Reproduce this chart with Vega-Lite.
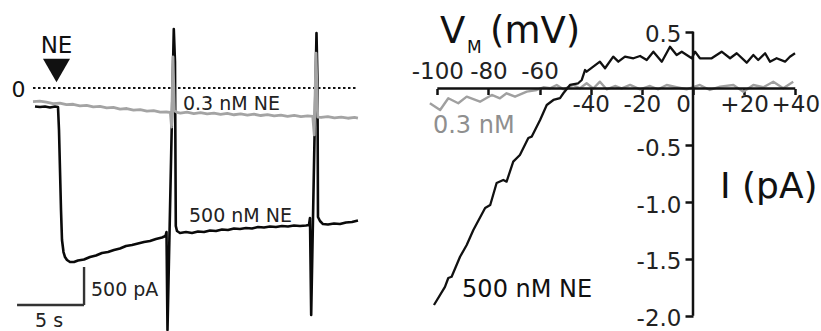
{
  "$schema": "https://vega.github.io/schema/vega-lite/v6.json",
  "width": 821,
  "height": 331,
  "autosize": {"type": "none"},
  "padding": 0,
  "background": "white",
  "config": {"view": {"stroke": null}},
  "datasets": {
    "ne500": [
      {"t": 0.149, "i": -243}, {"t": 0.522, "i": -250}, {"t": 0.896, "i": -243}, {"t": 1.269, "i": -257},
      {"t": 1.642, "i": -243}, {"t": 1.866, "i": -250}, {"t": 1.94, "i": -553}, {"t": 2.015, "i": -1079},
      {"t": 2.09, "i": -1605}, {"t": 2.164, "i": -2000}, {"t": 2.276, "i": -2158}, {"t": 2.388, "i": -2224},
      {"t": 2.537, "i": -2263}, {"t": 2.761, "i": -2289}, {"t": 3.06, "i": -2289}, {"t": 3.358, "i": -2270},
      {"t": 3.806, "i": -2257}, {"t": 4.254, "i": -2224}, {"t": 4.701, "i": -2204}, {"t": 5.149, "i": -2171},
      {"t": 5.597, "i": -2158}, {"t": 6.045, "i": -2132}, {"t": 6.493, "i": -2112}, {"t": 6.94, "i": -2079},
      {"t": 7.388, "i": -2066}, {"t": 7.836, "i": -2046}, {"t": 8.284, "i": -2026}, {"t": 8.731, "i": -2013},
      {"t": 9.179, "i": -1987}, {"t": 9.627, "i": -1967}, {"t": 9.888, "i": -1947}, {"t": 9.963, "i": -1895},
      {"t": 10.037, "i": -3184}, {"t": 10.507, "i": 776}, {"t": 10.597, "i": 342}, {"t": 10.657, "i": -1816},
      {"t": 10.746, "i": -1882}, {"t": 10.97, "i": -1908}, {"t": 11.418, "i": -1895}, {"t": 11.866, "i": -1908},
      {"t": 12.313, "i": -1888}, {"t": 12.761, "i": -1895}, {"t": 13.209, "i": -1875}, {"t": 13.657, "i": -1882},
      {"t": 14.104, "i": -1862}, {"t": 14.552, "i": -1868}, {"t": 15.0, "i": -1849}, {"t": 15.448, "i": -1855},
      {"t": 15.896, "i": -1842}, {"t": 16.343, "i": -1849}, {"t": 16.791, "i": -1829}, {"t": 17.239, "i": -1836},
      {"t": 17.687, "i": -1822}, {"t": 18.134, "i": -1829}, {"t": 18.582, "i": -1816}, {"t": 19.03, "i": -1822},
      {"t": 19.478, "i": -1809}, {"t": 19.925, "i": -1816}, {"t": 20.373, "i": -1809}, {"t": 20.597, "i": -1803},
      {"t": 20.672, "i": -1711}, {"t": 20.761, "i": -2987}, {"t": 21.157, "i": 724}, {"t": 21.231, "i": 105},
      {"t": 21.269, "i": -1697}, {"t": 21.418, "i": -1750}, {"t": 21.642, "i": -1790}, {"t": 22.015, "i": -1796},
      {"t": 22.463, "i": -1783}, {"t": 22.91, "i": -1790}, {"t": 23.358, "i": -1770}, {"t": 23.806, "i": -1763},
      {"t": 24.254, "i": -1743}
    ],
    "ne03": [
      {"t": 0.0, "i": -178}, {"t": 0.5, "i": -172}, {"t": 1.0, "i": -186}, {"t": 1.5, "i": -205},
      {"t": 2.0, "i": -198}, {"t": 2.5, "i": -220}, {"t": 3.0, "i": -214}, {"t": 3.5, "i": -234},
      {"t": 4.0, "i": -228}, {"t": 4.5, "i": -248}, {"t": 5.0, "i": -243}, {"t": 5.5, "i": -262},
      {"t": 6.0, "i": -256}, {"t": 6.5, "i": -277}, {"t": 7.0, "i": -270}, {"t": 7.5, "i": -290},
      {"t": 8.0, "i": -284}, {"t": 8.5, "i": -304}, {"t": 9.0, "i": -298}, {"t": 9.5, "i": -318},
      {"t": 9.95, "i": -316}, {"t": 10.25, "i": -322}, {"t": 10.34, "i": -513}, {"t": 10.45, "i": 408},
      {"t": 10.55, "i": -300}, {"t": 10.75, "i": -320}, {"t": 11.0, "i": -330}, {"t": 11.5, "i": -318},
      {"t": 12.0, "i": -336}, {"t": 12.5, "i": -324}, {"t": 13.0, "i": -340}, {"t": 13.5, "i": -330},
      {"t": 14.0, "i": -346}, {"t": 14.5, "i": -335}, {"t": 15.0, "i": -352}, {"t": 15.5, "i": -340},
      {"t": 16.0, "i": -356}, {"t": 16.5, "i": -345}, {"t": 17.0, "i": -362}, {"t": 17.5, "i": -350},
      {"t": 18.0, "i": -367}, {"t": 18.5, "i": -356}, {"t": 19.0, "i": -372}, {"t": 19.5, "i": -360},
      {"t": 20.0, "i": -377}, {"t": 20.5, "i": -366}, {"t": 20.88, "i": -372}, {"t": 20.99, "i": -618},
      {"t": 21.12, "i": 460}, {"t": 21.25, "i": -382}, {"t": 21.5, "i": -388}, {"t": 22.0, "i": -376},
      {"t": 22.5, "i": -394}, {"t": 23.0, "i": -382}, {"t": 23.5, "i": -398}, {"t": 24.0, "i": -386},
      {"t": 24.25, "i": -395}
    ],
    "iv500": [
      {"v": -101.3, "c": -1.906}, {"v": -97.0, "c": -1.747}, {"v": -95.7, "c": -1.668}, {"v": -94.4, "c": -1.657},
      {"v": -91.1, "c": -1.481}, {"v": -88.5, "c": -1.378}, {"v": -85.9, "c": -1.246}, {"v": -81.3, "c": -1.052},
      {"v": -79.3, "c": -1.026}, {"v": -76.8, "c": -0.832}, {"v": -74.2, "c": -0.805}, {"v": -72.9, "c": -0.82},
      {"v": -70.3, "c": -0.644}, {"v": -67.7, "c": -0.585}, {"v": -64.4, "c": -0.436}, {"v": -63.1, "c": -0.424},
      {"v": -59.8, "c": -0.277}, {"v": -57.2, "c": -0.145}, {"v": -54.6, "c": -0.101}, {"v": -52.0, "c": -0.084},
      {"v": -50.7, "c": -0.042}, {"v": -48.1, "c": 0.031}, {"v": -44.9, "c": 0.046}, {"v": -43.5, "c": 0.075},
      {"v": -42.2, "c": 0.163}, {"v": -41.6, "c": 0.148}, {"v": -39.0, "c": 0.192}, {"v": -36.4, "c": 0.236},
      {"v": -34.4, "c": 0.178}, {"v": -31.2, "c": 0.28}, {"v": -29.2, "c": 0.236}, {"v": -26.6, "c": 0.28},
      {"v": -23.3, "c": 0.266}, {"v": -20.7, "c": 0.286}, {"v": -18.1, "c": 0.251}, {"v": -15.5, "c": 0.324},
      {"v": -12.2, "c": 0.236}, {"v": -9.0, "c": 0.368}, {"v": -6.4, "c": 0.295}, {"v": -4.4, "c": 0.324},
      {"v": -0.5, "c": 0.266}, {"v": 0.8, "c": 0.324}, {"v": 2.7, "c": 0.266}, {"v": 7.3, "c": 0.266},
      {"v": 11.2, "c": 0.324}, {"v": 14.5, "c": 0.266}, {"v": 17.1, "c": 0.31}, {"v": 21.0, "c": 0.227},
      {"v": 23.6, "c": 0.295}, {"v": 25.5, "c": 0.251}, {"v": 28.2, "c": 0.31}, {"v": 30.1, "c": 0.236},
      {"v": 32.7, "c": 0.266}, {"v": 36.0, "c": 0.236}, {"v": 37.9, "c": 0.28}, {"v": 39.9, "c": 0.31}
    ],
    "iv03": [
      {"v": -102.9, "c": -0.13}, {"v": -98.9, "c": -0.189}, {"v": -95.7, "c": -0.086}, {"v": -91.8, "c": -0.13},
      {"v": -88.5, "c": -0.072}, {"v": -83.3, "c": -0.116}, {"v": -78.7, "c": -0.057}, {"v": -75.5, "c": -0.086},
      {"v": -72.9, "c": -0.042}, {"v": -69.6, "c": -0.072}, {"v": -65.0, "c": -0.028}, {"v": -61.1, "c": -0.013},
      {"v": -58.5, "c": 0.011}, {"v": -55.9, "c": 0.002}, {"v": -53.3, "c": 0.031}, {"v": -50.7, "c": -0.007},
      {"v": -46.8, "c": 0.031}, {"v": -44.2, "c": 0.002}, {"v": -41.6, "c": 0.046}, {"v": -39.0, "c": 0.0},
      {"v": -36.4, "c": 0.06}, {"v": -33.8, "c": -0.007}, {"v": -30.5, "c": 0.022}, {"v": -27.9, "c": 0.002},
      {"v": -24.6, "c": 0.031}, {"v": -20.7, "c": -0.007}, {"v": -16.8, "c": 0.022}, {"v": -13.6, "c": -0.007},
      {"v": -10.3, "c": 0.031}, {"v": -6.4, "c": 0.011}, {"v": -2.5, "c": -0.007}, {"v": 2.7, "c": 0.031},
      {"v": 6.6, "c": -0.013}, {"v": 10.6, "c": 0.016}, {"v": 15.8, "c": 0.031}, {"v": 19.7, "c": -0.028},
      {"v": 23.6, "c": 0.031}, {"v": 27.5, "c": 0.011}, {"v": 31.4, "c": 0.06}, {"v": 35.3, "c": 0.002},
      {"v": 39.2, "c": 0.06}
    ],
    "one": [{}]
  },
  "resolve": {"scale": {"x": "independent", "y": "independent"}, "axis": {"x": "independent", "y": "independent"}},
  "layer": [
    {
      "layer": [
        {
          "data": {"name": "one"},
          "mark": {"type": "rule", "strokeWidth": 2, "strokeDash": [2.5, 2.5], "color": "#111"},
          "encoding": {
            "x": {"datum": 0, "scale": {"domain": [-2.463, 58.81], "nice": false, "zero": false}, "axis": null},
            "x2": {"datum": 24.25},
            "y": {"datum": 0, "scale": {"domain": [-3197.4, 1157.9], "nice": false, "zero": false}, "axis": null}
          }
        },
        {
          "data": {"name": "ne500"},
          "mark": {"type": "line", "strokeWidth": 2.6, "color": "#0a0a0a", "strokeJoin": "round"},
          "encoding": {
            "x": {"field": "t", "type": "quantitative", "scale": {"domain": [-2.463, 58.81], "nice": false, "zero": false}, "axis": null},
            "y": {"field": "i", "type": "quantitative", "scale": {"domain": [-3197.4, 1157.9], "nice": false, "zero": false}, "axis": null}
          }
        },
        {
          "data": {"name": "ne03"},
          "mark": {"type": "line", "strokeWidth": 2.8, "color": "#a4a4a4", "strokeJoin": "round"},
          "encoding": {
            "x": {"field": "t", "type": "quantitative", "scale": {"domain": [-2.463, 58.81], "nice": false, "zero": false}, "axis": null},
            "y": {"field": "i", "type": "quantitative", "scale": {"domain": [-3197.4, 1157.9], "nice": false, "zero": false}, "axis": null}
          }
        },
        {
          "data": {"name": "one"},
          "mark": {"type": "rule", "strokeWidth": 2.4, "color": "#333"},
          "encoding": {
            "x": {"datum": -1.19, "axis": null},
            "x2": {"datum": 3.81},
            "y": {"datum": -2855, "axis": null}
          }
        },
        {
          "data": {"name": "one"},
          "mark": {"type": "rule", "strokeWidth": 2.4, "color": "#333"},
          "encoding": {
            "x": {"datum": 3.81, "axis": null},
            "y": {"datum": -2355, "axis": null},
            "y2": {"datum": -2855}
          }
        },
        {
          "data": {"name": "one"},
          "mark": {"type": "point", "shape": "triangle-down", "size": 729, "filled": true, "opacity": 1, "color": "#111", "strokeWidth": 0},
          "encoding": {
            "x": {"datum": 1.754, "axis": null},
            "y": {"datum": 230, "axis": null}
          }
        },
        {
          "data": {"name": "one"},
          "mark": {"type": "text", "text": "NE", "font": "DejaVu Sans", "fontSize": 23, "align": "center", "baseline": "alphabetic", "color": "#111"},
          "encoding": {"x": {"datum": 1.754, "axis": null}, "y": {"datum": 460, "axis": null}}
        },
        {
          "data": {"name": "one"},
          "mark": {"type": "text", "text": "0", "font": "DejaVu Sans", "fontSize": 22, "align": "center", "baseline": "alphabetic", "color": "#111"},
          "encoding": {"x": {"datum": -1.08, "axis": null}, "y": {"datum": -118, "axis": null}}
        },
        {
          "data": {"name": "one"},
          "mark": {"type": "text", "text": "0.3 nM NE", "font": "DejaVu Sans", "fontSize": 19, "align": "left", "baseline": "alphabetic", "color": "#222"},
          "encoding": {"x": {"datum": 11.19, "axis": null}, "y": {"datum": -289.5, "axis": null}}
        },
        {
          "data": {"name": "one"},
          "mark": {"type": "text", "text": "500 nM NE", "font": "DejaVu Sans", "fontSize": 19, "align": "left", "baseline": "alphabetic", "color": "#222"},
          "encoding": {"x": {"datum": 11.64, "axis": null}, "y": {"datum": -1763, "axis": null}}
        },
        {
          "data": {"name": "one"},
          "mark": {"type": "text", "text": "500 pA", "font": "DejaVu Sans", "fontSize": 19, "align": "left", "baseline": "alphabetic", "color": "#222"},
          "encoding": {"x": {"datum": 4.328, "axis": null}, "y": {"datum": -2737, "axis": null}}
        },
        {
          "data": {"name": "one"},
          "mark": {"type": "text", "text": "5 s", "font": "DejaVu Sans", "fontSize": 19, "align": "left", "baseline": "alphabetic", "color": "#222"},
          "encoding": {"x": {"datum": 0.149, "axis": null}, "y": {"datum": -3145, "axis": null}}
        }
      ]
    },
    {
      "resolve": {"axis": {"x": "independent", "y": "independent"}},
      "layer": [
        {
          "data": {"name": "iv03"},
          "mark": {"type": "line", "strokeWidth": 2.4, "color": "#a0a0a0", "strokeJoin": "round"},
          "encoding": {
            "x": {
              "field": "v", "type": "quantitative",
              "scale": {"domain": [-271.02, 50.06], "nice": false, "zero": false},
              "axis": {
                "orient": "bottom", "offset": -242.5, "title": null, "domain": false, "grid": false,
                "values": [0], "ticks": true, "tickSize": 6, "tickWidth": 2.5, "tickColor": "#111",
                "labelFont": "DejaVu Sans", "labelFontSize": 23, "labelColor": "#222",
                "labelBaseline": "middle", "labelFlush": false, "labelOverlap": false,
                "labelPadding": 10, "labelOffset": -10, "labelExpr": "'0'"
              }
            },
            "y": {
              "field": "c", "type": "quantitative",
              "scale": {"domain": [-2.1347, 0.779], "nice": false, "zero": false},
              "axis": {
                "orient": "left", "offset": -693, "title": null, "domain": false, "grid": false,
                "values": [-2, -1.5, -1, -0.5, 0.5],
                "ticks": true, "tickSize": 8, "tickWidth": 2.5, "tickColor": "#111",
                "labelFont": "DejaVu Sans", "labelFontSize": 23, "labelColor": "#222",
                "labelPadding": 4, "labelOffset": 3, "labelFlush": false, "labelOverlap": false,
                "labelExpr": "datum.value < 0 ? '-' + format(-datum.value, '.1f') : format(datum.value, '.1f')"
              }
            }
          }
        },
        {
          "data": {"name": "one"},
          "mark": {"type": "rule", "strokeWidth": 2.5, "color": "#111"},
          "encoding": {
            "x": {
              "datum": -100,
              "scale": {"domain": [-271.02, 50.06], "nice": false, "zero": false},
              "axis": {
                "orient": "bottom", "offset": -242.5, "title": null, "domain": false, "grid": false,
                "values": [-100, -80, -60], "ticks": true, "tickSize": 6, "tickWidth": 2.5, "tickColor": "#111",
                "labelFont": "DejaVu Sans", "labelFontSize": 23, "labelColor": "#222",
                "labelBaseline": "middle", "labelFlush": false, "labelOverlap": false,
                "labelPadding": -23, "labelExpr": "'-' + (-datum.value)"
              }
            },
            "x2": {"datum": 40},
            "y": {"datum": 0, "axis": null}
          }
        },
        {
          "data": {"name": "one"},
          "mark": {"type": "rule", "strokeWidth": 2.5, "color": "#111"},
          "encoding": {
            "x": {"datum": 0, "axis": null},
            "y": {"datum": 0.5, "axis": null},
            "y2": {"datum": -2.0}
          }
        },
        {
          "data": {"name": "iv500"},
          "mark": {"type": "line", "strokeWidth": 2.3, "color": "#111", "strokeJoin": "round"},
          "encoding": {
            "x": {
              "field": "v", "type": "quantitative",
              "scale": {"domain": [-271.02, 50.06], "nice": false, "zero": false},
              "axis": {
                "orient": "bottom", "offset": -242.5, "title": null, "domain": false, "grid": false,
                "values": [-40, -20, 20, 40], "ticks": true, "tickSize": 6, "tickWidth": 2.5, "tickColor": "#111",
                "labelFont": "DejaVu Sans", "labelFontSize": 23, "labelColor": "#222",
                "labelBaseline": "middle", "labelFlush": false, "labelOverlap": false,
                "labelPadding": 10,
                "labelExpr": "datum.value > 0 ? '+' + datum.value : '-' + (-datum.value)"
              }
            },
            "y": {
              "field": "c", "type": "quantitative",
              "scale": {"domain": [-2.1347, 0.779], "nice": false, "zero": false},
              "axis": null
            }
          }
        },
        {
          "data": {"name": "one"},
          "mark": {"type": "text", "text": "V", "font": "DejaVu Sans", "fontSize": 37, "align": "left", "baseline": "alphabetic", "color": "#111"},
          "encoding": {"x": {"datum": -98.94, "axis": null}, "y": {"datum": 0.4005, "axis": null}}
        },
        {
          "data": {"name": "one"},
          "mark": {"type": "text", "text": "M", "font": "DejaVu Sans", "fontSize": 17, "align": "left", "baseline": "alphabetic", "color": "#111"},
          "encoding": {"x": {"datum": -88.4, "axis": null}, "y": {"datum": 0.315, "axis": null}}
        },
        {
          "data": {"name": "one"},
          "mark": {"type": "text", "text": "(mV)", "font": "DejaVu Sans", "fontSize": 37, "align": "left", "baseline": "alphabetic", "color": "#111"},
          "encoding": {"x": {"datum": -79.4, "axis": null}, "y": {"datum": 0.4005, "axis": null}}
        },
        {
          "data": {"name": "one"},
          "mark": {"type": "text", "text": "I (pA)", "font": "DejaVu Sans", "fontSize": 36, "align": "left", "baseline": "alphabetic", "color": "#111"},
          "encoding": {"x": {"datum": 10.56, "axis": null}, "y": {"datum": -0.964, "axis": null}}
        },
        {
          "data": {"name": "one"},
          "mark": {"type": "text", "text": "0.3 nM", "font": "DejaVu Sans", "fontSize": 24, "align": "left", "baseline": "alphabetic", "color": "#8f8f8f"},
          "encoding": {"x": {"datum": -101.7, "axis": null}, "y": {"datum": -0.392, "axis": null}}
        },
        {
          "data": {"name": "one"},
          "mark": {"type": "text", "text": "500 nM NE", "font": "DejaVu Sans", "fontSize": 24, "align": "left", "baseline": "alphabetic", "color": "#111"},
          "encoding": {"x": {"datum": -90.3, "axis": null}, "y": {"datum": -1.835, "axis": null}}
        }
      ]
    }
  ]
}
